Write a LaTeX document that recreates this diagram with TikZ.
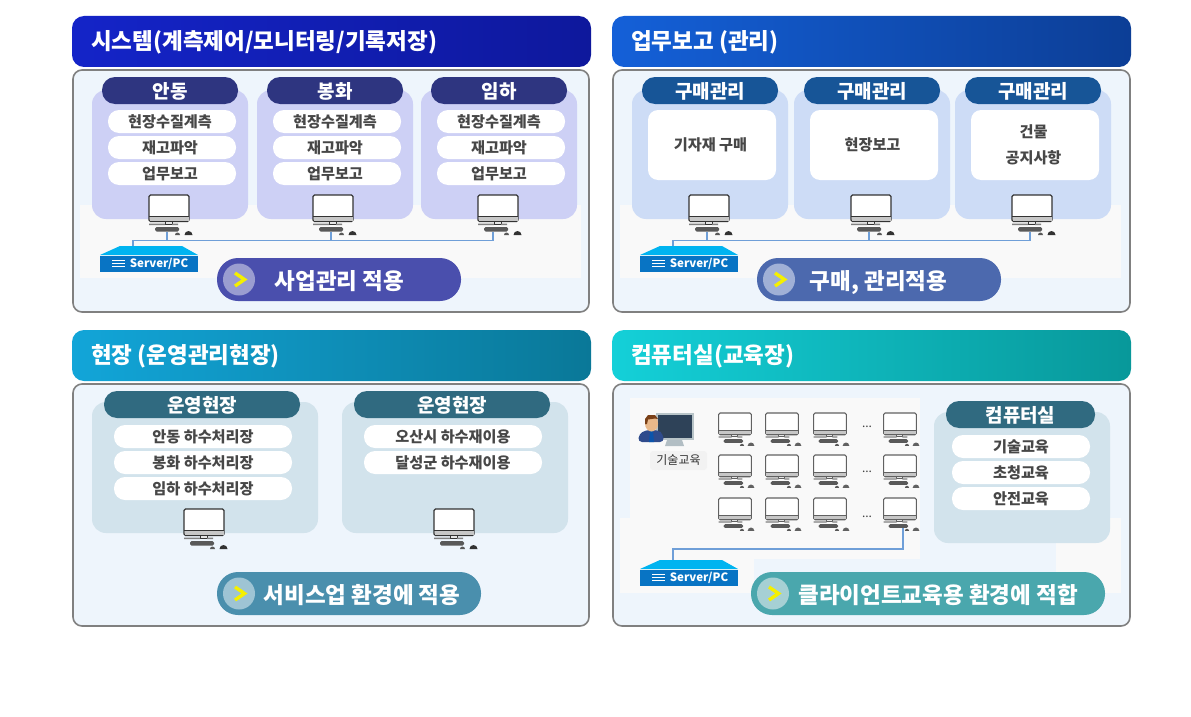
\documentclass[tikz,border=0pt]{standalone}
\usepackage{fontspec}
\setmainfont{Noto Sans CJK KR}
\usetikzlibrary{positioning}
\definecolor{bodybg}{HTML}{EEF5FC}
\definecolor{nearwhite}{HTML}{F9F9F9}
\definecolor{linkblue}{HTML}{6F9FD8}
\definecolor{colA}{HTML}{CDD0F5}
\definecolor{colB}{HTML}{CDDCF6}
\definecolor{colC}{HTML}{D2E3EC}
\definecolor{titleA}{HTML}{2E3580}
\definecolor{titleB}{HTML}{175597}
\definecolor{titleC}{HTML}{306A80}
\definecolor{actA}{HTML}{4A4FAD}
\definecolor{actB}{HTML}{4C69AE}
\definecolor{actC}{HTML}{4A8FAD}
\definecolor{actD}{HTML}{4AA7AD}
\definecolor{circA}{HTML}{9A9DD0}
\definecolor{circB}{HTML}{A0B0D6}
\definecolor{circC}{HTML}{9EC4D4}
\definecolor{circD}{HTML}{A6D0D4}
\definecolor{headAl}{HTML}{1424C8}
\definecolor{headAr}{HTML}{0E189C}
\definecolor{headBl}{HTML}{1460D8}
\definecolor{headBr}{HTML}{0C3E96}
\definecolor{headCl}{HTML}{12A5D8}
\definecolor{headCr}{HTML}{0A7898}
\definecolor{headDl}{HTML}{14D0D8}
\definecolor{headDr}{HTML}{08989A}
\definecolor{arrowyellow}{HTML}{F5F000}
\definecolor{srvtop}{HTML}{00B4F0}
\definecolor{srvfront}{HTML}{0874C4}
\definecolor{monframe}{HTML}{B8C4C8}
\definecolor{monscreen}{HTML}{2E4258}
\definecolor{monstand}{HTML}{B2BEC4}
\definecolor{suit}{HTML}{2F4B8C}
\definecolor{tie}{HTML}{0C54AA}
\definecolor{skin}{HTML}{E8B88A}
\definecolor{hair}{HTML}{7A4018}
\begin{document}
\begin{tikzpicture}[x=1pt,y=-1pt,
  pcink/.initial=black!80,
  panel/.style={draw=black!50,line width=1.6pt,fill=bodybg,rounded corners=9pt},
  header/.style={rounded corners=12pt},
  headtext/.style={text=white,anchor=west,text height=18pt,text depth=0pt,font=\bfseries\fontsize{22.5}{26}\selectfont},
  column/.style={rounded corners=14pt},
  title/.style={text=white,rounded corners=13pt,minimum height=27pt,text height=15pt,text depth=0pt,font=\bfseries\fontsize{19}{21}\selectfont},
  item/.style={fill=white,text=black!72,rounded corners=11pt,minimum height=23pt,text height=12pt,text depth=0pt,font=\bfseries\fontsize{15.2}{17}\selectfont},
  leftitem/.style={item,minimum width=128pt,execute at begin node={\hspace*{-4pt}}},
  bigitem/.style={fill=white,text=black!72,rounded corners=10pt,minimum width=128pt,minimum height=70pt,align=center,font=\bfseries\fontsize{15.2}{26}\selectfont},
  action/.style={text=white,rounded corners=21pt,minimum height=43pt},
  actiontext/.style={text=white,text height=18pt,text depth=0pt,font=\bfseries\fontsize{22.5}{26}\selectfont},
  chevron/.style={draw=arrowyellow,line width=3.4pt},
  link/.style={draw=linkblue,line width=1.1pt},
  smallpc/.style={scale=.82,pcink=black!62},
  dots/.style={text=black!75,font=\fontsize{12}{14}\selectfont},
  pc/.pic={
    \draw[draw=\pgfkeysvalueof{/tikz/pcink},fill=white,line width=1.1pt,rounded corners=1.5pt] (-20,0) rectangle (20,26.5);
    \draw[draw=\pgfkeysvalueof{/tikz/pcink},line width=1.1pt] (-20,21.5) -- (20,21.5);
    \fill[black!22] (-19.5,22) rectangle (19.5,26);
    \draw[draw=\pgfkeysvalueof{/tikz/pcink},fill=black!10,line width=.8pt] (-4,26.5) rectangle (3,29);
    \fill[black!50] (-20,28.5) rectangle (-4,30) (3,28.5) rectangle (9,30);
    \fill[black!65,rounded corners=1.5pt] (-14,32) rectangle (10,36.5);
    \fill[black!65] (6,40) arc (180:360:2.5) -- cycle;
    \fill[\pgfkeysvalueof{/tikz/pcink}] (15.5,40) arc (180:360:4) -- cycle;
    \coordinate (-port) at (-2,36.5);
  },
  server/.pic={
    \fill[srvtop] (-49,9) -- (-29,0) -- (33,0) -- (49,9) -- cycle;
    \fill[srvfront] (-49,9.5) rectangle (49,26);
    \draw[white,line width=.9pt] (-37,14.5) -- (-24,14.5) (-37,17.5) -- (-24,17.5) (-37,20.5) -- (-24,20.5);
    \node[text=white,font=\bfseries\fontsize{11.5}{14}\selectfont] (-label) at (10,17.5) {Server/PC};
    \coordinate (-top) at (-16,0);
  }]
\tikzstyle{every node}+=[inner sep=0pt]
\useasboundingbox (0,0) rectangle (1191,717);
\fill[white] (0,0) rectangle (1191,717);

\shade[header,left color=headAl,right color=headAr] (72,16) rectangle (591,67);
\node[headtext] (headA) at (91,40) {시스템(계측제어/모니터링/기록저장)};
\draw[panel] (73,70) rectangle (589,312);
\fill[nearwhite] (80,205) rectangle (581,278);
\fill[colA,column] (92,90) rectangle (248,219);
\fill[colA,column] (257,90) rectangle (413,219);
\fill[colA,column] (421,90) rectangle (577,219);
\node[title,fill=titleA,minimum width=136pt] (titleNa) at (170,90.5) {안동};
\node[title,fill=titleA,minimum width=136pt] (titleNb) at (335,90.5) {봉화};
\node[title,fill=titleA,minimum width=136pt] (titleNc) at (499,90.5) {임하};
\node[leftitem] (itemA1) at (172,121.5) {현장수질계측};
\node[leftitem] (itemA2) at (172,147.5) {재고파악};
\node[leftitem] (itemA3) at (172,173.5) {업무보고};
\node[leftitem] (itemB1) at (337,121.5) {현장수질계측};
\node[leftitem] (itemB2) at (337,147.5) {재고파악};
\node[leftitem] (itemB3) at (337,173.5) {업무보고};
\node[leftitem] (itemC1) at (501,121.5) {현장수질계측};
\node[leftitem] (itemC2) at (501,147.5) {재고파악};
\node[leftitem] (itemC3) at (501,173.5) {업무보고};
\pic (pcA) at (169,195) {pc};
\pic (pcB) at (333,195) {pc};
\pic (pcC) at (498,195) {pc};
\pic (srvA) at (149,246) {server};
\coordinate (busA) at (493,240.5);
\draw[link] (srvA-top) |- (busA) -- (busA |- pcC-port);
\draw[link] (pcA-port) -- (pcA-port |- busA);
\draw[link] (pcB-port) -- (pcB-port |- busA);
\node[action,fill=actA,minimum width=244pt] (actNa) at (339,279.5) {};
\fill[circA] (239,279.5) circle (16);
\draw[chevron] (235,273) -- (244.5,279.5) -- (235,286);
\node[actiontext] (actAtext) at (339.5,280) {사업관리 적용};

\shade[header,left color=headBl,right color=headBr] (612,16) rectangle (1131,67);
\node[headtext] (headB) at (631,40) {업무보고 (관리)};
\draw[panel] (613,70) rectangle (1130,312);
\fill[nearwhite] (620,205) rectangle (1121,278);
\fill[colB,column] (632,90) rectangle (788,219);
\fill[colB,column] (794,90) rectangle (950,219);
\fill[colB,column] (955,90) rectangle (1111,219);
\node[title,fill=titleB,minimum width=136pt] (titleNd) at (710,90.5) {구매관리};
\node[title,fill=titleB,minimum width=136pt] (titleNe) at (872,90.5) {구매관리};
\node[title,fill=titleB,minimum width=136pt] (titleNf) at (1033,90.5) {구매관리};
\node[bigitem] (itemD) at (712,145) {\hspace*{-3pt}기자재 구매};
\node[bigitem] (itemE) at (874,145) {\hspace*{-3pt}현장보고};
\node[bigitem] (itemF) at (1035,145) {\hspace*{-3pt}건물\\\hspace*{-3pt}공지사항};
\pic (pcD) at (709,195) {pc};
\pic (pcE) at (871,195) {pc};
\pic (pcF) at (1032,195) {pc};
\pic (srvB) at (689,246) {server};
\coordinate (busB) at (1030,240.5);
\draw[link] (srvB-top) |- (busB) -- (busB |- pcF-port);
\draw[link] (pcD-port) -- (pcD-port |- busB);
\draw[link] (pcE-port) -- (pcE-port |- busB);
\node[action,fill=actB,minimum width=244pt] (actNb) at (879,279.5) {};
\fill[circB] (779,279.5) circle (16);
\draw[chevron] (775,273) -- (784.5,279.5) -- (775,286);
\node[actiontext] (actBtext) at (878.5,280) {구매, 관리적용};

\shade[header,left color=headCl,right color=headCr] (72,330) rectangle (591,381);
\node[headtext] (headC) at (91,354) {현장 (운영관리현장)};
\draw[panel] (73,384) rectangle (589,626);
\fill[colC,column] (92,402) rectangle (318,533);
\fill[colC,column] (342,402) rectangle (568,533);
\node[title,fill=titleC,minimum width=196pt] (titleNg) at (202,404.5) {운영현장};
\node[title,fill=titleC,minimum width=196pt] (titleNh) at (452,404.5) {운영현장};
\node[item,minimum width=178pt] (itemG1) at (203,436.5) {안동 하수처리장};
\node[item,minimum width=178pt] (itemG2) at (203,462.5) {봉화 하수처리장};
\node[item,minimum width=178pt] (itemG3) at (203,488.5) {임하 하수처리장};
\node[item,minimum width=178pt] (itemH1) at (453,436.5) {오산시 하수재이용};
\node[item,minimum width=178pt] (itemH2) at (453,462.5) {달성군 하수재이용};
\pic (pcG) at (204,509) {pc};
\pic (pcH) at (454,509) {pc};
\node[action,fill=actC,minimum width=264pt] (actNc) at (349,593.5) {};
\fill[circC] (239,593.5) circle (16);
\draw[chevron] (235,587) -- (244.5,593.5) -- (235,600);
\node[actiontext] (actCtext) at (362,594) {서비스업 환경에 적용};

\shade[header,left color=headDl,right color=headDr] (612,330) rectangle (1131,381);
\node[headtext] (headD) at (631,354) {컴퓨터실(교육장)};
\draw[panel] (613,384) rectangle (1130,626);
\fill[nearwhite] (630,398) rectangle (920,559);
\fill[nearwhite] (620,518) rectangle (754,593);
\fill[nearwhite] (1056,518) rectangle (1121,593);
\fill[colC,column] (934,412) rectangle (1110,543);
\node[title,fill=titleC,minimum width=149pt] (titleNi) at (1020.5,414.5) {컴퓨터실};
\node[item,minimum width=138pt] (itemI1) at (1021,446.5) {기술교육};
\node[item,minimum width=138pt] (itemI2) at (1021,472.5) {초청교육};
\node[item,minimum width=138pt] (itemI3) at (1021,498.5) {안전교육};
\fill[monstand] (667,440) -- (682,440) -- (684,446) -- (665,446) -- cycle;
\draw[draw=monframe,fill=monscreen,line width=1.5pt] (657,414) rectangle (693,439);
\fill[suit,rounded corners=4pt] (638,442) -- (639,434) -- (646,430) -- (658,430) -- (663,434) -- (664,442) -- cycle;
\fill[tie] (650,431) -- (653,431) -- (654,442) -- (649,442) -- cycle;
\fill[skin] (651.5,423.5) ellipse (6.5 and 8);
\fill[hair] (645,424) -- (645,419) -- (648,415) -- (655,415) -- (658,419) -- (655,418.5) -- (648,419.5) -- (647,424) -- cycle;
\node[fill=black!5,rounded corners=3pt,minimum width=57pt,minimum height=19pt,text=black!80,font=\fontsize{12}{14}\selectfont] (labelI) at (678.5,460.5) {기술교육};
\pic[smallpc] (gridA1) at (735,413) {pc};
\pic[smallpc] (gridA2) at (782,413) {pc};
\pic[smallpc] (gridA3) at (830,413) {pc};
\pic[smallpc] (gridA4) at (900,413) {pc};
\pic[smallpc] (gridB1) at (735,455) {pc};
\pic[smallpc] (gridB2) at (782,455) {pc};
\pic[smallpc] (gridB3) at (830,455) {pc};
\pic[smallpc] (gridB4) at (900,455) {pc};
\pic[smallpc] (gridC1) at (735,498) {pc};
\pic[smallpc] (gridC2) at (782,498) {pc};
\pic[smallpc] (gridC3) at (830,498) {pc};
\pic[smallpc] (gridC4) at (900,498) {pc};
\node[dots] (dotsA) at (867,427) {...};
\node[dots] (dotsB) at (867,472) {...};
\node[dots] (dotsC) at (867,517) {...};
\pic (srvD) at (689,560) {server};
\coordinate (busD) at (903,549);
\draw[link] (srvD-top) |- (busD) -- (gridC4-port -| busD);
\node[action,fill=actD,minimum width=354pt] (actNd) at (928,593.5) {};
\fill[circD] (773,593.5) circle (16);
\draw[chevron] (769,587) -- (778.5,593.5) -- (769,600);
\node[actiontext] (actDtext) at (938,594) {클라이언트교육용 환경에 적합};
\end{tikzpicture}
\end{document}
